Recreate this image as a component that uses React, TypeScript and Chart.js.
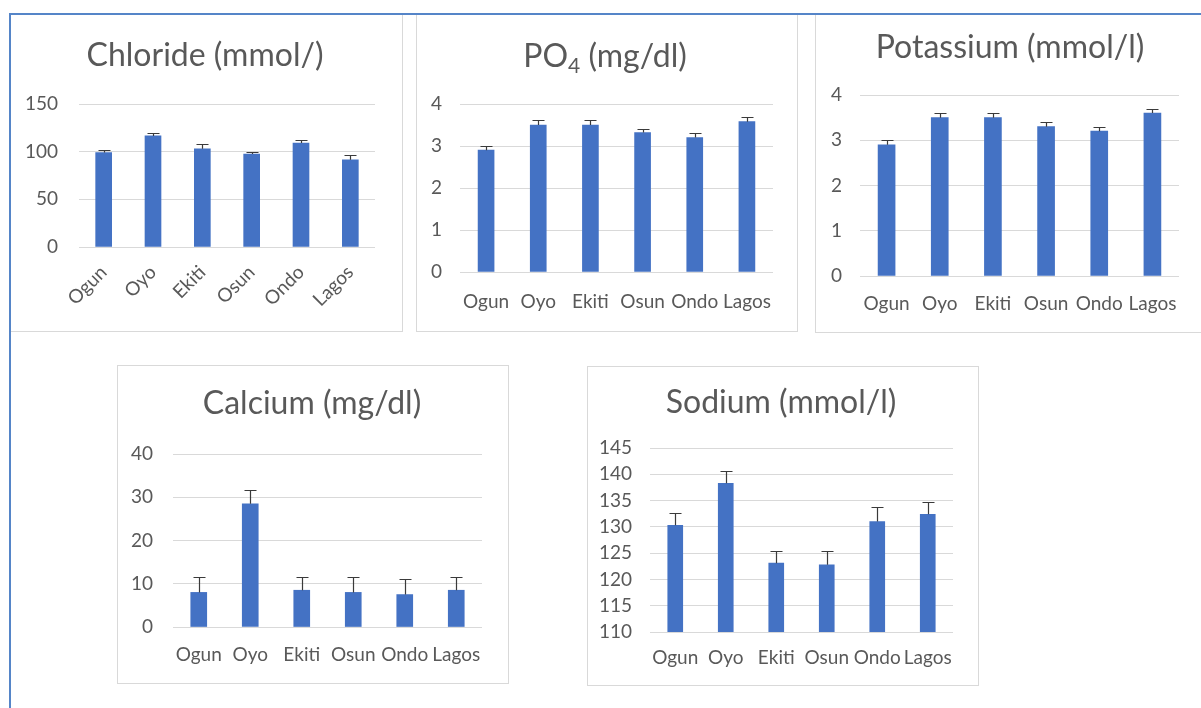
import React, { useEffect, useRef } from "react";
import { Chart, registerables } from "chart.js";

Chart.register(...registerables);

// ---------- data ----------
const categories = ["Ogun", "Oyo", "Ekiti", "Osun", "Ondo", "Lagos"];

const chlorideValues = [99, 116.5, 103, 97.5, 109, 91.5];
const chlorideErrors = [2.5, 3, 5, 2.5, 3.5, 5];

const po4Values = [2.9, 3.5, 3.5, 3.32, 3.2, 3.58];
const po4Errors = [0.1, 0.12, 0.12, 0.08, 0.11, 0.12];

const potassiumValues = [2.9, 3.5, 3.5, 3.3, 3.2, 3.6];
const potassiumErrors = [0.1, 0.1, 0.1, 0.1, 0.1, 0.1];

const calciumValues = [8, 28.5, 8.5, 8, 7.5, 8.5];
const calciumErrors = [3.6, 3.2, 3.1, 3.6, 3.6, 3.1];

const sodiumValues = [130.3, 138.3, 123.1, 122.8, 131, 132.4];
const sodiumErrors = [2.3, 2.3, 2.4, 2.6, 2.7, 2.4];

// axis ranges [min, max, step]
const chlorideAxis = [0, 150, 50];
const po4Axis = [0, 4, 1];
const potassiumAxis = [0, 4, 1];
const calciumAxis = [0, 40, 10];
const sodiumAxis = [110, 145, 5];

// titles (segments; sub = subscript)
const chlorideTitle = [{ text: "Chloride (mmol/)" }];
const po4Title = [{ text: "PO" }, { text: "4", sub: true }, { text: " (mg/dl)" }];
const potassiumTitle = [{ text: "Potassium (mmol/l)" }];
const calciumTitle = [{ text: "Calcium (mg/dl)" }];
const sodiumTitle = [{ text: "Sodium (mmol/l)" }];

// ---------- styles ----------
const FONT = "Lato, 'Open Sans', sans-serif";
const TEXT = "#595959";
const BAR = "#4472C4";
const GRID = "#d9d9d9";
const ERR = "#3a3a3a";
const TICK_SIZE = 19;
const TITLE_SIZE = 32;

type Seg = { text: string; sub?: boolean };
type Cfg = {
  title: Seg[];
  values: number[];
  errors: number[];
  axis: number[];
  rotate: number;
  box: { left: number; top: number; width: number; height: number };
  plot: { left: number; right: number; top: number; bottom: number };
  titleX: number;
  titleBase: number;
  barThickness: number;
  yGap: number;
  xPad: number;
};

const panels: Cfg[] = [
  {
    title: chlorideTitle, values: chlorideValues, errors: chlorideErrors, axis: chlorideAxis, rotate: 45,
    box: { left: 10, top: 14, width: 393, height: 318 },
    plot: { left: 68, right: 364, top: 89, bottom: 232 },
    titleX: 194, titleBase: 51, barThickness: 16, yGap: 21, xPad: 14,
  },
  {
    title: po4Title, values: po4Values, errors: po4Errors, axis: po4Axis, rotate: 0,
    box: { left: 416, top: 14, width: 382, height: 318 },
    plot: { left: 43, right: 356, top: 89, bottom: 257 },
    titleX: 188, titleBase: 52, barThickness: 16, yGap: 18, xPad: 18,
  },
  {
    title: potassiumTitle, values: potassiumValues, errors: potassiumErrors, axis: potassiumAxis, rotate: 0,
    box: { left: 815, top: 14, width: 392, height: 319 },
    plot: { left: 44, right: 363, top: 80, bottom: 261 },
    titleX: 194, titleBase: 43, barThickness: 17, yGap: 18, xPad: 16,
  },
  {
    title: calciumTitle, values: calciumValues, errors: calciumErrors, axis: calciumAxis, rotate: 0,
    box: { left: 117, top: 365, width: 392, height: 319 },
    plot: { left: 55, right: 364, top: 88, bottom: 261 },
    titleX: 194, titleBase: 48, barThickness: 16, yGap: 20, xPad: 16,
  },
  {
    title: sodiumTitle, values: sodiumValues, errors: sodiumErrors, axis: sodiumAxis, rotate: 0,
    box: { left: 587, top: 366, width: 392, height: 320 },
    plot: { left: 62, right: 365, top: 81, bottom: 265 },
    titleX: 193, titleBase: 46, barThickness: 15, yGap: 18, xPad: 14,
  },
];

function errorBarPlugin(errors: number[]) {
  return {
    id: "errorBars",
    afterDatasetsDraw(chart: any) {
      const meta = chart.getDatasetMeta(0);
      const ys = chart.scales.y;
      const ctx = chart.ctx;
      const data = chart.data.datasets[0].data as number[];
      ctx.save();
      ctx.strokeStyle = ERR;
      ctx.lineWidth = 1.2;
      meta.data.forEach((bar: any, i: number) => {
        const v = data[i];
        const top = Math.round(ys.getPixelForValue(v + errors[i])) + 0.5;
        const base = ys.getPixelForValue(v);
        const x = Math.round(bar.x) + 0.5;
        ctx.beginPath();
        ctx.moveTo(x, base);
        ctx.lineTo(x, top);
        ctx.moveTo(x - 6, top);
        ctx.lineTo(x + 6, top);
        ctx.stroke();
      });
      ctx.restore();
    },
  };
}

function titlePlugin(cfg: Cfg) {
  return {
    id: "panelTitle",
    afterDraw(chart: any) {
      const ctx = chart.ctx;
      const main = `${TITLE_SIZE}px ${FONT}`;
      const sub = `${Math.round(TITLE_SIZE * 0.65)}px ${FONT}`;
      ctx.save();
      ctx.fillStyle = TEXT;
      ctx.textBaseline = "alphabetic";
      ctx.textAlign = "left";
      let total = 0;
      cfg.title.forEach((s) => {
        ctx.font = s.sub ? sub : main;
        total += ctx.measureText(s.text).width;
      });
      let x = cfg.titleX - total / 2;
      cfg.title.forEach((s) => {
        ctx.font = s.sub ? sub : main;
        ctx.fillText(s.text, x, cfg.titleBase + (s.sub ? 6 : 0));
        x += ctx.measureText(s.text).width;
      });
      ctx.restore();
    },
  };
}

function Panel({ cfg }: { cfg: Cfg }) {
  const ref = useRef<HTMLCanvasElement>(null);
  const W = cfg.box.width - 2;
  const H = cfg.box.height - 2;
  useEffect(() => {
    const canvas = ref.current!;
    const [min, max, step] = cfg.axis;
    const chart = new Chart(canvas, {
      type: "bar",
      data: {
        labels: categories,
        datasets: [
          {
            data: cfg.values,
            backgroundColor: BAR,
            borderWidth: 0,
            barThickness: cfg.barThickness,
          },
        ],
      },
      options: {
        animation: false,
        responsive: false,
        maintainAspectRatio: false,
        events: [],
        layout: { padding: { left: 0, top: cfg.plot.top, right: W - cfg.plot.right, bottom: 0 } },
        plugins: { legend: { display: false }, tooltip: { enabled: false }, title: { display: false } },
        scales: {
          x: {
            offset: true,
            grid: { display: false, drawTicks: false },
            border: { display: false },
            ticks: {
              autoSkip: false,
              minRotation: cfg.rotate,
              maxRotation: cfg.rotate,
              color: TEXT,
              font: { family: FONT, size: TICK_SIZE },
              padding: cfg.xPad,
            },
            afterFit: (s: any) => {
              s.height = H - cfg.plot.bottom;
            },
          },
          y: {
            min,
            max,
            grid: { color: GRID, drawTicks: false, lineWidth: 1 },
            border: { display: false },
            ticks: {
              stepSize: step,
              color: TEXT,
              font: { family: FONT, size: TICK_SIZE },
              padding: cfg.yGap,
            },
            afterFit: (s: any) => {
              s.width = cfg.plot.left;
            },
          },
        },
      } as any,
      plugins: [errorBarPlugin(cfg.errors), titlePlugin(cfg)],
    });
    return () => chart.destroy();
  }, []);
  return (
    <div
      style={{
        position: "absolute",
        left: cfg.box.left,
        top: cfg.box.top,
        width: cfg.box.width,
        height: cfg.box.height,
        boxSizing: "border-box",
        border: `1px solid ${GRID}`,
        background: "#fff",
      }}
    >
      <canvas ref={ref} width={W} height={H} style={{ display: "block", width: W, height: H }} />
    </div>
  );
}

export default function App() {
  return (
    <div
      style={{
        position: "absolute",
        left: 0,
        top: 0,
        width: 1201,
        height: 708,
        overflow: "hidden",
        background: "#fff",
      }}
    >
      {panels.map((p, i) => (
        <Panel key={i} cfg={p} />
      ))}
      <div
        style={{
          position: "absolute",
          left: 9,
          top: 13,
          width: 1250,
          height: 760,
          borderLeft: "2px solid #5585c8",
          borderTop: "2px solid #5585c8",
          pointerEvents: "none",
        }}
      />
    </div>
  );
}
